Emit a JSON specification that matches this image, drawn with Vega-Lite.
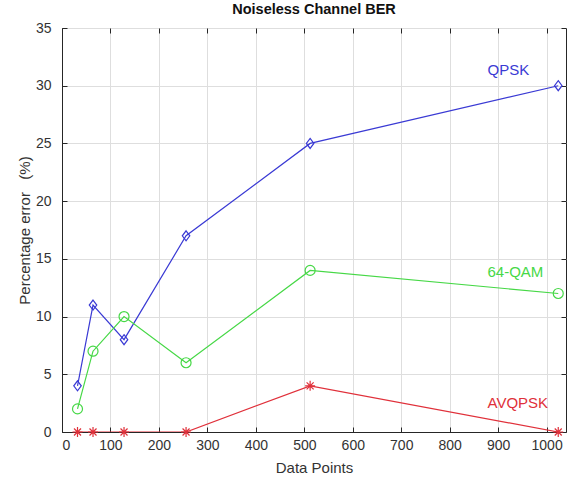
{
  "$schema": "https://vega.github.io/schema/vega-lite/v6.json",
  "width": 504,
  "height": 404,
  "autosize": "none",
  "padding": {"left": 62, "top": 28, "right": 3, "bottom": 49},
  "background": "white",
  "title": {"text": "Noiseless Channel BER", "fontSize": 14.5, "font": "Liberation Sans", "fontWeight": "bold", "color": "#111", "offset": 4},
  "config": {
    "view": {"stroke": "#262626", "strokeWidth": 1},
    "axis": {
      "labelFont": "Liberation Sans", "labelFontSize": 14, "labelColor": "#333",
      "titleFont": "Liberation Sans", "titleFontSize": 15, "titleFontWeight": "normal", "titleColor": "#333",
      "domainColor": "#262626", "tickColor": "#262626", "tickSize": -5, "labelPadding": 11,
      "gridColor": "#dedede", "gridWidth": 1, "format": "d"
    }
  },
  "datasets": {
    "series": [
      {"series": "QPSK", "n": 32, "err": 4},
      {"series": "QPSK", "n": 64, "err": 11},
      {"series": "QPSK", "n": 128, "err": 8},
      {"series": "QPSK", "n": 256, "err": 17},
      {"series": "QPSK", "n": 512, "err": 25},
      {"series": "QPSK", "n": 1024, "err": 30},
      {"series": "64-QAM", "n": 32, "err": 2},
      {"series": "64-QAM", "n": 64, "err": 7},
      {"series": "64-QAM", "n": 128, "err": 10},
      {"series": "64-QAM", "n": 256, "err": 6},
      {"series": "64-QAM", "n": 512, "err": 14},
      {"series": "64-QAM", "n": 1024, "err": 12},
      {"series": "AVQPSK", "n": 32, "err": 0},
      {"series": "AVQPSK", "n": 64, "err": 0},
      {"series": "AVQPSK", "n": 128, "err": 0},
      {"series": "AVQPSK", "n": 256, "err": 0},
      {"series": "AVQPSK", "n": 512, "err": 4},
      {"series": "AVQPSK", "n": 1024, "err": 0}
    ],
    "labels": [
      {"series": "QPSK", "n": 878, "err": 31.4},
      {"series": "64-QAM", "n": 878, "err": 13.9},
      {"series": "AVQPSK", "n": 878, "err": 2.5}
    ]
  },
  "layer": [
    {
      "data": {"name": "series"},
      "mark": {"type": "line", "strokeWidth": 1.2, "clip": true},
      "encoding": {
        "x": {"field": "n", "type": "quantitative", "scale": {"domain": [0, 1040], "nice": false, "zero": false},
              "axis": {"title": "Data Points", "values": [0,100,200,300,400,500,600,700,800,900,1000], "grid": true, "titlePadding": 8}},
        "y": {"field": "err", "type": "quantitative", "scale": {"domain": [0, 35], "nice": false},
              "axis": {"title": "Percentage error\u00a0\u00a0\u00a0(%)", "values": [0,5,10,15,20,25,30,35], "grid": true, "titlePadding": 3, "labelPadding": 16}},
        "color": {"field": "series", "type": "nominal", "legend": null,
                  "scale": {"domain": ["QPSK", "64-QAM", "AVQPSK"], "range": ["#3a3ad4", "#46d846", "#e0303a"]}}
      }
    },
    {
      "data": {"name": "series"},
      "mark": {"type": "point", "filled": false, "strokeWidth": 1.2, "size": 100, "opacity": 1},
      "encoding": {
        "x": {"field": "n", "type": "quantitative", "axis": null},
        "y": {"field": "err", "type": "quantitative", "axis": null},
        "color": {"field": "series", "type": "nominal", "legend": null},
        "shape": {"field": "series", "type": "nominal", "legend": null,
                  "scale": {"domain": ["QPSK", "64-QAM", "AVQPSK"],
                            "range": ["M0,-1L0.75,0L0,1L-0.75,0Z", "circle", "M-1,0L1,0M0,-1L0,1M-0.7,-0.7L0.7,0.7M-0.7,0.7L0.7,-0.7"]}}
      }
    },
    {
      "data": {"name": "labels"},
      "mark": {"type": "text", "align": "left", "baseline": "middle", "font": "Liberation Sans", "fontSize": 15},
      "encoding": {
        "x": {"field": "n", "type": "quantitative",
              "axis": {"orient": "top", "title": null, "labels": false, "grid": false, "domain": false, "values": [0,100,200,300,400,500,600,700,800,900,1000]}},
        "y": {"field": "err", "type": "quantitative",
              "axis": {"orient": "right", "title": null, "labels": false, "grid": false, "domain": false, "values": [0,5,10,15,20,25,30,35]}},
        "text": {"field": "series"},
        "color": {"field": "series", "type": "nominal", "legend": null}
      }
    }
  ],
  "resolve": {"axis": {"x": "independent", "y": "independent"}}
}
